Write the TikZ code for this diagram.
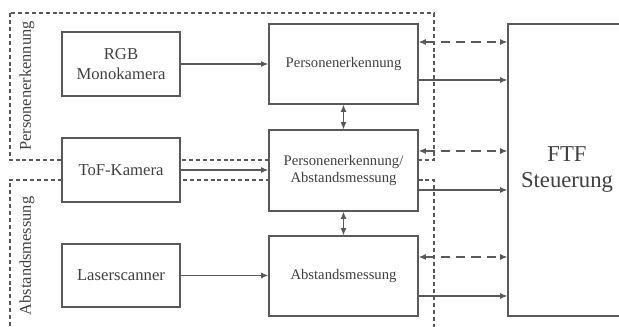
\documentclass[tikz,border=0pt]{standalone}
\usepackage{fontspec}
\setmainfont{Liberation Serif}
\usetikzlibrary{arrows.meta,calc}
\begin{document}
\begin{tikzpicture}[x=0.75pt,y=-0.75pt,
  line/.style={draw=black!65, line width=0.9pt},
  box/.style={line, fill=white, inner sep=0pt, align=center, text=black!75},
  srcbox/.style={box, minimum width=88.5pt, minimum height=48pt, font=\rmfamily\fontsize{12.5}{15}\selectfont},
  procbox/.style={box, minimum width=111.75pt, minimum height=60pt, font=\rmfamily\fontsize{11}{12.75}\selectfont},
  ctrlbox/.style={box, minimum width=88.5pt, minimum height=219pt, font=\rmfamily\fontsize{17}{19.5}\selectfont},
  region/.style={draw=black!65, line width=0.8pt, dash pattern=on 3pt off 2.2pt},
  regionlabel/.style={rotate=90, text=black!75, font=\rmfamily\fontsize{12.3}{14}\selectfont},
  tip/.tip={Latex[length=5.5pt,width=4.5pt]},
  arr/.style={line, -tip},
  darr/.style={line, tip-tip},
  dasharr/.style={darr, dash pattern=on 7pt off 4.5pt}]
\path[use as bounding box, clip] (0,0) rectangle (619,327);

% dashed regions
\draw[region] (10,13) rectangle (434,160);
\draw[region] (10,340) -- (10,180) -- (434,180) -- (434,340);
\node[regionlabel] (lblPE) at (27,86) {Personenerkennung};
\node[regionlabel] (lblAB) at (27,256) {Abstandsmessung};

% boxes
\node[srcbox] (rgb) at (121,64) {RGB\\Monokamera};
\node[srcbox] (tof) at (121,170) {ToF-Kamera};
\node[srcbox, minimum height=47.25pt] (laser) at (121,275.5) {Laserscanner};
\node[procbox] (pe) at (343.5,64) {Personenerkennung};
\node[procbox, minimum height=60.75pt] (pa) at (343.5,170.5) {Personenerkennung/\\Abstandsmessung};
\node[procbox] (ab) at (343.5,276) {Abstandsmessung};
\node[ctrlbox] (ftf) at (567,170) {FTF\\Steuerung};

% inputs
\draw[arr] (rgb.east) -- (rgb.east -| pe.west);
\draw[arr] (tof.east) -- (tof.east -| pa.west);
\draw[arr] (laser.east) -- (laser.east -| ab.west);

% vertical exchanges
\draw[darr] (pe.south) -- (pe.south |- pa.north);
\draw[darr] (pa.south) -- (pa.south |- ab.north);

% to controller
\draw[dasharr] ($(pe.east)+(0,-22)$) -- ($(pe.east -| ftf.west)+(0,-22)$);
\draw[arr] ($(pe.east)+(0,16)$) -- ($(pe.east -| ftf.west)+(0,16)$);
\draw[dasharr] ($(pa.east)+(0,-19.5)$) -- ($(pa.east -| ftf.west)+(0,-19.5)$);
\draw[arr] ($(pa.east)+(0,19.5)$) -- ($(pa.east -| ftf.west)+(0,19.5)$);
\draw[dasharr] ($(ab.east)+(0,-19)$) -- ($(ab.east -| ftf.west)+(0,-19)$);
\draw[arr] ($(ab.east)+(0,20)$) -- ($(ab.east -| ftf.west)+(0,20)$);
\end{tikzpicture}
\end{document}
